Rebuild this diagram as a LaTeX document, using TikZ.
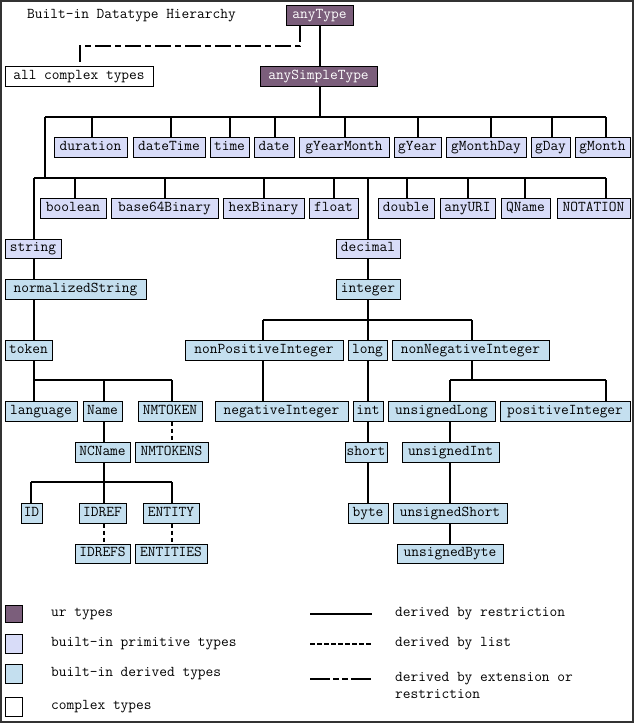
\documentclass[tikz,border=0pt]{standalone}
\usepackage{fontspec}
\setmonofont{Latin Modern Mono}
\definecolor{urc}{HTML}{7B5E7B}
\definecolor{primc}{HTML}{D8DCF8}
\definecolor{derc}{HTML}{C4DFEF}
\tikzset{
 box/.style={draw=black,line width=1pt,inner sep=0pt,text height=9.5pt,text depth=3pt,font=\ttfamily\fontsize{15}{17}\selectfont},
 ur/.style={box,fill=urc,text=white},
 prim/.style={box,fill=primc},
 der/.style={box,fill=derc},
 cplx/.style={box,fill=white},
 link/.style={line width=2pt},
 listl/.style={line width=2pt,dash pattern=on 4pt off 3pt},
 extl/.style={line width=2pt,dash pattern=on 16pt off 4pt on 6pt off 4pt},
 lbl/.style={inner sep=0pt,anchor=west,font=\ttfamily\fontsize{15}{17}\selectfont}
}
\newcommand{\bx}[7]{\node[#1,minimum width={(#4-#3)*1pt},minimum height={(#6-#5)*1pt}] (#2) at ({(#3+#4)/2},{(#5+#6)/2}) {#7};}
\begin{document}
\begin{tikzpicture}[x=1pt,y=-1pt]
\fill[white] (0,0) rectangle (634,723);
\useasboundingbox (0,0) rectangle (634,723);
\draw[line width=2pt,color=black!80] (1,1) rectangle (633,722);
\node[lbl] (title) at (27,16) {Built-in Datatype Hierarchy};
\bx{ur}{anyType}{286}{353}{5}{25}{anyType}
\bx{cplx}{complex}{5}{153}{66}{86}{all complex types}
\bx{ur}{anySimpleType}{260}{377}{66}{86}{anySimpleType}
% row1
\bx{prim}{duration}{54}{127}{137}{157}{duration}
\bx{prim}{dateTime}{133}{205}{137}{157}{dateTime}
\bx{prim}{time}{210}{249}{137}{157}{time}
\bx{prim}{date}{254}{294}{137}{157}{date}
\bx{prim}{gYearMonth}{299}{389}{137}{157}{gYearMonth}
\bx{prim}{gYear}{394}{441}{137}{157}{gYear}
\bx{prim}{gMonthDay}{446}{526}{137}{157}{gMonthDay}
\bx{prim}{gDay}{531}{570}{137}{157}{gDay}
\bx{prim}{gMonth}{575}{630}{137}{157}{gMonth}
% row2
\bx{prim}{boolean}{40}{106}{198}{218}{boolean}
\bx{prim}{base64}{111}{218}{198}{218}{base64Binary}
\bx{prim}{hexBinary}{223}{304}{198}{218}{hexBinary}
\bx{prim}{float}{309}{358}{198}{218}{float}
\bx{prim}{double}{378}{434}{198}{218}{double}
\bx{prim}{anyURI}{440}{495}{198}{218}{anyURI}
\bx{prim}{QName}{501}{550}{198}{218}{QName}
\bx{prim}{NOTATION}{557}{630}{198}{218}{NOTATION}
% string branch
\bx{prim}{string}{5}{61}{239}{258}{string}
\bx{der}{normalizedString}{5}{146}{279}{299}{normalizedString}
\bx{der}{token}{5}{52}{340}{360}{token}
\bx{der}{language}{5}{77}{401}{421}{language}
\bx{der}{Name}{83}{122}{401}{421}{Name}
\bx{der}{NMTOKEN}{138}{202}{401}{421}{NMTOKEN}
\bx{der}{NCName}{75}{130}{442}{462}{NCName}
\bx{der}{NMTOKENS}{135}{208}{442}{462}{NMTOKENS}
\bx{der}{ID}{21}{42}{503}{523}{ID}
\bx{der}{IDREF}{79}{126}{503}{523}{IDREF}
\bx{der}{ENTITY}{143}{199}{503}{523}{ENTITY}
\bx{der}{IDREFS}{75}{130}{544}{563}{IDREFS}
\bx{der}{ENTITIES}{135}{207}{544}{563}{ENTITIES}
% decimal branch
\bx{prim}{decimal}{336}{400}{239}{258}{decimal}
\bx{der}{integer}{336}{400}{279}{299}{integer}
\bx{der}{nonPos}{185}{343}{340}{360}{nonPositiveInteger}
\bx{der}{long}{348}{387}{340}{360}{long}
\bx{der}{nonNeg}{392}{549}{340}{360}{nonNegativeInteger}
\bx{der}{negInt}{215}{348}{401}{421}{negativeInteger}
\bx{der}{int}{353}{383}{401}{421}{int}
\bx{der}{short}{345}{387}{442}{462}{short}
\bx{der}{byte}{348}{388}{503}{523}{byte}
\bx{der}{uLong}{388}{495}{401}{421}{unsignedLong}
\bx{der}{posInt}{500}{630}{401}{421}{positiveInteger}
\bx{der}{uInt}{402}{499}{442}{462}{unsignedInt}
\bx{der}{uShort}{393}{507}{503}{523}{unsignedShort}
\bx{der}{uByte}{397}{503}{544}{563}{unsignedByte}
% coordinates
\coordinate (c1) at (300,46);
\coordinate (c2) at (80,46);
\coordinate (b1L) at (45,117);
\coordinate (b1R) at (606,117);
\coordinate (b2L) at (34,178);
\coordinate (b2R) at (606,178);
\coordinate (tk) at (34,380);
\coordinate (tkR) at (172,380);
\coordinate (nc) at (31,482);
\coordinate (ncR) at (172,482);
\coordinate (in) at (263,320);
\coordinate (inR) at (472,320);
\coordinate (nn) at (450,380);
\coordinate (nnR) at (606,380);
% connectors
\draw[extl] (c1 |- anyType.south) -- (c1) -- (c2) -- (c2 |- complex.north);
\draw[link] (anyType.south -| 320,0) -- (anySimpleType.north -| 320,0);
\draw[link] (anySimpleType.south -| 320,0) -- (320,117);
\draw[link] (b1L) -- (b1R);
\foreach \n/\x in {duration/92,dateTime/171,time/230,date/275,gYearMonth/345,gYear/418,gMonthDay/491,gDay/552,gMonth/606}
  \draw[link] (\x,117) -- (\n.north -| \x,0);
\draw[link] (b1L) -- (45,178);
\draw[link] (b2L) -- (b2R);
\foreach \n/\x in {boolean/75,base64/165,hexBinary/264,float/334,double/407,anyURI/468,QName/525,NOTATION/606}
  \draw[link] (\x,178) -- (\n.north -| \x,0);
\draw[link] (b2L) -- (string.north -| b2L);
\draw[link] (string.south -| b2L) -- (normalizedString.north -| b2L);
\draw[link] (normalizedString.south -| b2L) -- (token.north -| b2L);
\draw[link] (token.south -| b2L) -- (tk) -- (tkR);
\draw[link] (tk) -- (language.north -| tk);
\draw[link] (104,380) -- (Name.north -| 104,0);
\draw[link] (tkR) -- (NMTOKEN.north -| tkR);
\draw[listl] (NMTOKEN.south -| tkR) -- (NMTOKENS.north -| tkR);
\draw[link] (Name.south -| 104,0) -- (NCName.north -| 104,0);
\draw[link] (NCName.south -| 104,0) -- (104,482);
\draw[link] (nc) -- (ncR);
\draw[link] (nc) -- (ID.north -| nc);
\draw[link] (104,482) -- (IDREF.north -| 104,0);
\draw[link] (ncR) -- (ENTITY.north -| ncR);
\draw[listl] (IDREF.south -| 104,0) -- (IDREFS.north -| 104,0);
\draw[listl] (ENTITY.south -| ncR) -- (ENTITIES.north -| ncR);
\draw[link] (368,178) -- (decimal.north -| 368,0);
\draw[link] (decimal.south -| 368,0) -- (integer.north -| 368,0);
\draw[link] (integer.south -| 368,0) -- (368,320);
\draw[link] (in) -- (inR);
\draw[link] (in) -- (nonPos.north -| in);
\draw[link] (368,320) -- (long.north -| 368,0);
\draw[link] (inR) -- (nonNeg.north -| inR);
\draw[link] (nonPos.south -| in) -- (negInt.north -| in);
\draw[link] (long.south -| 368,0) -- (int.north -| 368,0);
\draw[link] (int.south -| 368,0) -- (short.north -| 368,0);
\draw[link] (short.south -| 368,0) -- (byte.north -| 368,0);
\draw[link] (nonNeg.south -| inR) -- (472,380);
\draw[link] (nn) -- (nnR);
\draw[link] (nn) -- (uLong.north -| nn);
\draw[link] (nnR) -- (posInt.north -| nnR);
\draw[link] (uLong.south -| nn) -- (uInt.north -| nn);
\draw[link] (uInt.south -| nn) -- (uShort.north -| nn);
\draw[link] (uShort.south -| nn) -- (uByte.north -| nn);
% legend
\bx{ur}{kur}{5}{22}{605}{622}{}
\bx{prim}{kprim}{5}{22}{634}{653}{}
\bx{der}{kder}{5}{22}{664}{683}{}
\bx{cplx}{kcplx}{5}{22}{697}{716}{}
\node[lbl] (tur) at (51,614) {ur types};
\node[lbl] (tprim) at (51,644) {built-in primitive types};
\node[lbl] (tder) at (51,674) {built-in derived types};
\node[lbl] (tcplx) at (51,707) {complex types};
\coordinate (l1a) at (310,614); \coordinate (l1b) at (372,614);
\coordinate (l2a) at (310,644); \coordinate (l2b) at (372,644);
\coordinate (l3a) at (310,679); \coordinate (l3b) at (372,679);
\draw[link] (l1a) -- (l1b);
\draw[line width=2pt,dash pattern=on 5pt off 2pt] (l2a) -- (l2b);
\draw[line width=2pt,dash pattern=on 20pt off 3pt on 6pt off 3pt on 6pt off 3pt] (l3a) -- (l3b);
\node[lbl] (r1) at (395,614) {derived by restriction};
\node[lbl] (r2) at (395,644) {derived by list};
\node[lbl,align=left,anchor=north west] (r3) at (395,672) {derived by extension or\\restriction};
\end{tikzpicture}
\end{document}
